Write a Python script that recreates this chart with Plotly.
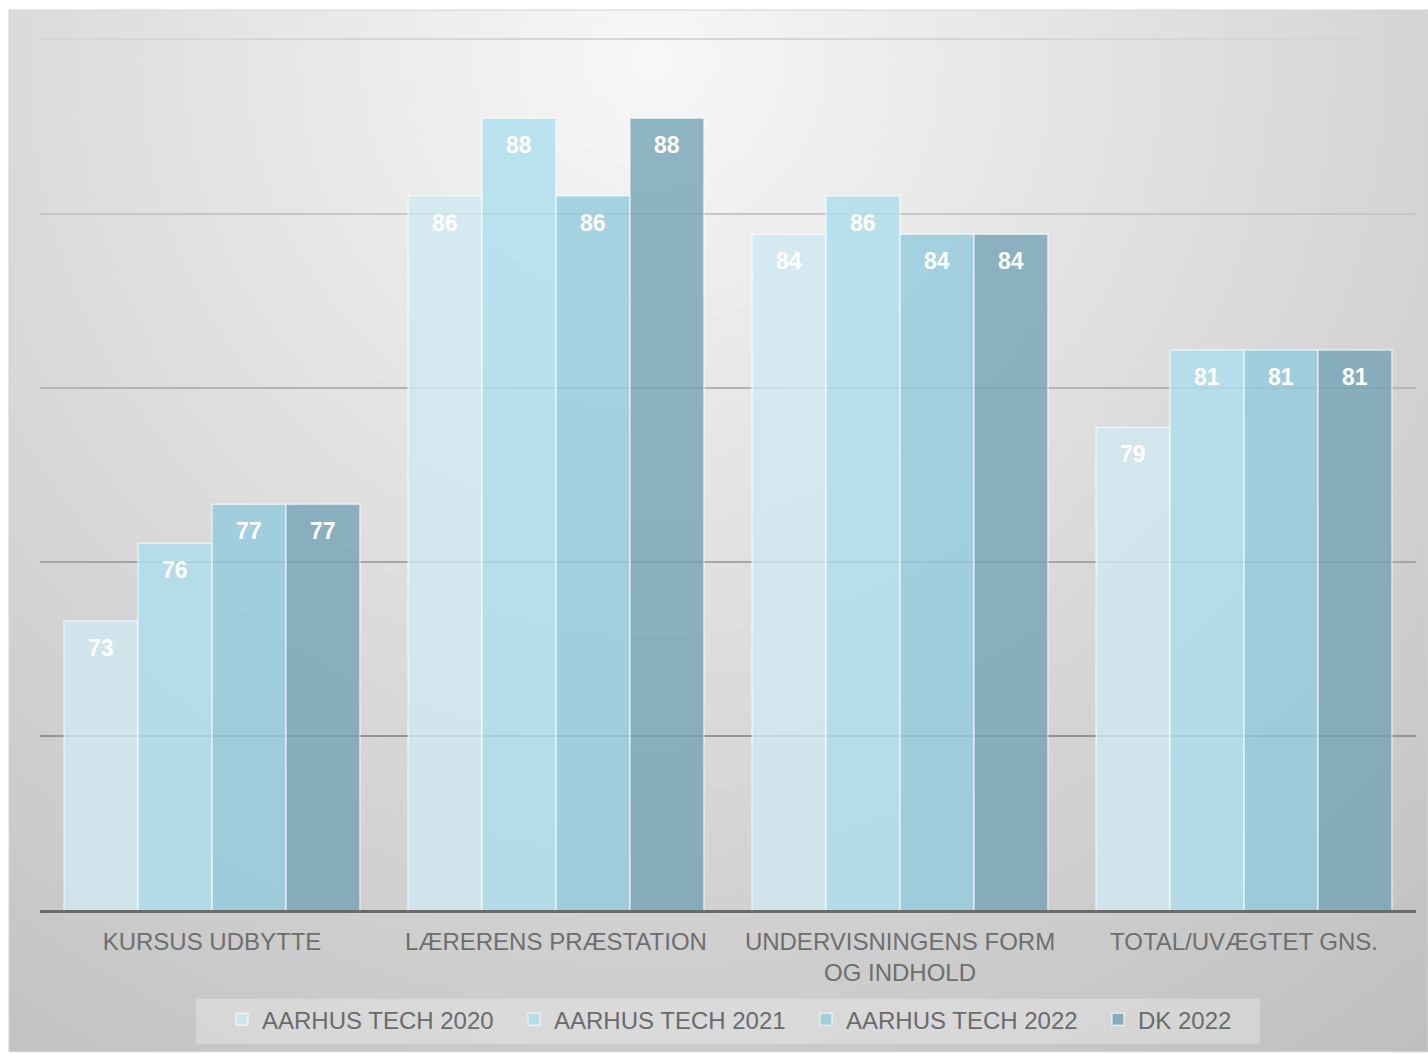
import base64
import struct
import zlib

import numpy as np
import plotly.graph_objects as go

# ---------------- data ----------------
categories = ["KURSUS UDBYTTE", "LÆRERENS PRÆSTATION",
              "UNDERVISNINGENS FORM<br>OG INDHOLD", "TOTAL/UVÆGTET GNS."]
series_names = ["AARHUS TECH 2020", "AARHUS TECH 2021", "AARHUS TECH 2022", "DK 2022"]
aarhus_2020 = [73.31, 85.51, 84.41, 78.86]
aarhus_2021 = [75.53, 87.74, 85.51, 81.08]
aarhus_2022 = [76.65, 85.51, 84.41, 81.08]
dk_2022 = [76.65, 87.74, 84.41, 81.08]
series_values = [aarhus_2020, aarhus_2021, aarhus_2022, dk_2022]
grid_values = [90, 85, 80, 75, 70]

# ---------------- style ----------------
W, H = 1428, 1054
M_L, M_R, M_T, M_B = 40, 12, 36, 142
PW, PH = W - M_L - M_R, H - M_T - M_B
Y_RANGE = [65, 90.1]
BARGAP = 0.14
FONT = "Liberation Sans, Arial, sans-serif"
bar_colors = ["rgba(207,233,243,0.8)", "rgba(173,223,238,0.8)",
              "rgba(145,203,221,0.8)", "rgba(116,163,181,0.8)"]
grid_colors = ["#d6d6d6", "#c6c6c6", "#b4b4b4", "#a5a5a5", "#929292"]


def px_to_paper_x(px):
    return (px - M_L) / PW


def px_to_paper_y(py):
    return (H - M_B - py) / PH


# background radial gradient as png
def make_gradient_png():
    gw, gh = 355, 261
    x0, y0, x1, y1 = 9, 10, W, H
    xs = x0 + (np.arange(gw) + 0.5) * (x1 - x0) / gw
    ys = y0 + (np.arange(gh) + 0.5) * (y1 - y0) / gh
    X, Y = np.meshgrid(xs, ys)
    d = np.hypot(X - 650, Y - 60)
    v = np.clip(248 - 0.045 * d, 190, 250).astype(np.uint8)
    raw = b"".join(b"\x00" + row.tobytes() for row in v)

    def chunk(t, data):
        c = struct.pack(">I", len(data)) + t + data
        return c + struct.pack(">I", zlib.crc32(t + data) & 0xFFFFFFFF)

    png = (b"\x89PNG\r\n\x1a\n"
           + chunk(b"IHDR", struct.pack(">IIBBBBB", gw, gh, 8, 0, 0, 0, 0))
           + chunk(b"IDAT", zlib.compress(raw, 9))
           + chunk(b"IEND", b""))
    return "data:image/png;base64," + base64.b64encode(png).decode()


fig = go.Figure()

for name, vals, col in zip(series_names, series_values, bar_colors):
    fig.add_trace(go.Bar(
        name=name, x=categories, y=vals,
        marker=dict(color=col, line=dict(color="rgba(255,255,255,0.6)", width=1.5)),
        hoverinfo="x+y",
    ))

# invisible traces to host overlay axes (used for graded gridlines)
for k in range(2, len(grid_values) + 1):
    fig.add_trace(go.Scatter(x=[], y=[], yaxis=f"y{k}", showlegend=False,
                             hoverinfo="skip"))

# data labels
bw = PW / len(categories) * (1 - BARGAP) / len(series_values)
annotations = []
for i, vals in enumerate(series_values):
    for cat, v in zip(categories, vals):
        annotations.append(dict(
            x=cat, y=v, xref="x", yref="y", text=f"{v:.0f}", showarrow=False,
            xshift=(i - (len(series_values) - 1) / 2) * bw, yshift=-27,
            font=dict(family=FONT, size=23, color="white", weight="bold"),
        ))

ax_common = dict(range=Y_RANGE, showticklabels=False, ticks="", zeroline=False,
                 showline=False, fixedrange=True, gridwidth=2)
layout_axes = {}
layout_axes["yaxis"] = dict(**ax_common, tickvals=[grid_values[0]], gridcolor=grid_colors[0])
for k in range(1, len(grid_values)):
    layout_axes[f"yaxis{k + 1}"] = dict(**ax_common, tickvals=[grid_values[k]],
                                        gridcolor=grid_colors[k], overlaying="y")

bg_x0, bg_x1 = px_to_paper_x(9), px_to_paper_x(W)
bg_y0, bg_y1 = px_to_paper_y(H), px_to_paper_y(10)

fig.update_layout(
    width=W, height=H,
    margin=dict(l=M_L, r=M_R, t=M_T, b=M_B, pad=0),
    paper_bgcolor="white",
    plot_bgcolor="rgba(0,0,0,0)",
    barmode="group", bargap=BARGAP, bargroupgap=0,
    font=dict(family=FONT, size=24, color="#6e6e6e"),
    xaxis=dict(showline=True, linecolor="#6b6b6b", linewidth=3, ticks="",
               showgrid=False, tickfont=dict(size=24, color="#6e6e6e"),
               ticklabelstandoff=8, fixedrange=True),
    **layout_axes,
    legend=dict(orientation="h", x=px_to_paper_x(222), xanchor="left",
                y=px_to_paper_y(1022), yanchor="middle",
                bgcolor="rgba(0,0,0,0)", entrywidth=247, entrywidthmode="pixels",
                font=dict(size=24, color="#6b6b6b", family=FONT),
                traceorder="normal"),
    images=[dict(source=make_gradient_png(), xref="paper", yref="paper",
                 x=bg_x0, y=bg_y1, sizex=bg_x1 - bg_x0, sizey=bg_y1 - bg_y0,
                 xanchor="left", yanchor="top", sizing="stretch", layer="below")],
    shapes=[
        dict(type="rect", xref="paper", yref="paper", x0=bg_x0, x1=bg_x1,
             y0=bg_y0, y1=bg_y1, line=dict(color="#d2d2d2", width=1),
             fillcolor="rgba(0,0,0,0)", layer="below"),
        dict(type="rect", xref="paper", yref="paper",
             x0=px_to_paper_x(196), x1=px_to_paper_x(1260),
             y0=px_to_paper_y(1046), y1=px_to_paper_y(1001),
             line=dict(width=0), fillcolor="rgba(255,255,255,0.28)", layer="below"),
    ],
    annotations=annotations,
    showlegend=True,
)

fig.write_html("out.html", config={"displayModeBar": False},
               post_script="document.body.style.margin='0';document.body.style.overflow='hidden';")
